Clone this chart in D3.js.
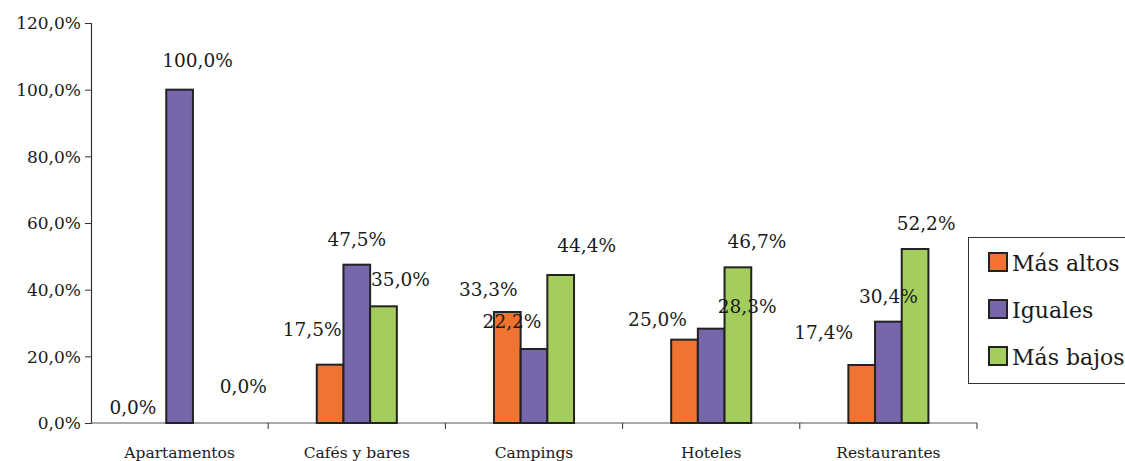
<!DOCTYPE html>
<html><head><meta charset="utf-8">
<script src="https://cdn.jsdelivr.net/npm/d3@7"></script>
<style>body{margin:0;background:#fff}svg{display:block}text{font-family:"DejaVu Serif",serif;fill:#1a1a1a}</style>
</head><body><svg id="c" width="1125" height="461"></svg>
<script>
const categories = ["Apartamentos","Cafés y bares","Campings","Hoteles","Restaurantes"];
const seriesNames = ["Más altos","Iguales","Más bajos"];
const masAltos = [0.0,17.5,33.3,25.0,17.4];
const iguales  = [100.0,47.5,22.2,28.3,30.4];
const masBajos = [0.0,35.0,44.4,46.7,52.2];
const yTicks = [0,20,40,60,80,100,120];

// layout (label nudges relative to bar centre / top, px)
const colors = ["#F07431","#7766AA","#A5CD5E"];
const labelNudge = [
  [[-20,-15],[18,-29],[37,-36]],
  [[-18,-35],[0,-25],[17,-27]],
  [[-19,-22],[-22,-27],[26,-29]],
  [[-27,-20],[36,-22],[19,-26]],
  [[-38,-32],[0,-25],[11,-25]]
];
const values = [masAltos, iguales, masBajos];
const fmt = v => v.toFixed(1).replace('.', ',') + '%';

const svg = d3.select('#c');
const y = d3.scaleLinear().domain([0,120]).range([423,23]);
const x0 = d3.scaleBand().domain(categories).range([91,977]).padding(0);
const x1 = d3.scaleBand().domain(seriesNames).range([0,x0.bandwidth()]).paddingInner(0).paddingOuter(1.82);

// y axis
const ya = svg.append('g').attr('transform','translate(91,0)')
  .call(d3.axisLeft(y).tickValues(yTicks).tickFormat(fmt).tickSize(6).tickPadding(4));
ya.select('.domain').attr('stroke','#333').attr('stroke-width',1.2);
ya.selectAll('.tick line').attr('stroke','#333');
ya.selectAll('.tick text').style('font-size','17px').attr('fill','#1a1a1a').attr('dy','0.35em');

// x axis line + ticks at boundaries
svg.append('line').attr('x1',91).attr('x2',977).attr('y1',y(0)).attr('y2',y(0)).attr('stroke','#555').attr('stroke-width',1.2);
const bounds = categories.map(c=>x0(c)).concat([x0(categories[categories.length-1])+x0.bandwidth()]);
svg.selectAll('.xt').data(bounds.slice(1)).join('line')
  .attr('x1',d=>d).attr('x2',d=>d).attr('y1',y(0)).attr('y2',y(0)+6).attr('stroke','#333');
svg.selectAll('.xl').data(categories).join('text')
  .attr('x',d=>x0(d)+x0.bandwidth()/2).attr('y',458).attr('text-anchor','middle')
  .style('font-size','15.5px').text(d=>d);

// bars
const data = [];
categories.forEach((c,i)=>seriesNames.forEach((s,j)=>data.push({c,i,s,j,v:values[j][i]})));
svg.selectAll('.bar').data(data).join('rect')
  .attr('x',d=>x0(d.c)+x1(d.s)).attr('width',x1.bandwidth())
  .attr('y',d=>y(d.v)).attr('height',d=>y(0)-y(d.v))
  .attr('fill',d=>colors[d.j]).attr('stroke','#222').attr('stroke-width',2)
  .style('display',d=>d.v>0?null:'none');

// labels
svg.selectAll('.lab').data(data).join('text')
  .attr('x',d=>x0(d.c)+x1(d.s)+x1.bandwidth()/2+labelNudge[d.i][d.j][0])
  .attr('y',d=>y(d.v)+labelNudge[d.i][d.j][1]).attr('dy','0.35em')
  .attr('text-anchor','middle').style('font-size','18.5px').text(d=>fmt(d.v));

// legend
const lg = svg.append('g');
lg.append('rect').attr('x',968.5).attr('y',237.5).attr('width',170).attr('height',146)
  .attr('fill','#fff').attr('stroke','#333').attr('stroke-width',1);
seriesNames.forEach((s,j)=>{
  const yy = 253 + j*47;
  lg.append('rect').attr('x',989).attr('y',yy).attr('width',18).attr('height',18)
    .attr('fill',colors[j]).attr('stroke','#222').attr('stroke-width',2);
  lg.append('text').attr('x',1012).attr('y',yy+18).style('font-size','22px').text(s);
});
</script></body></html>
